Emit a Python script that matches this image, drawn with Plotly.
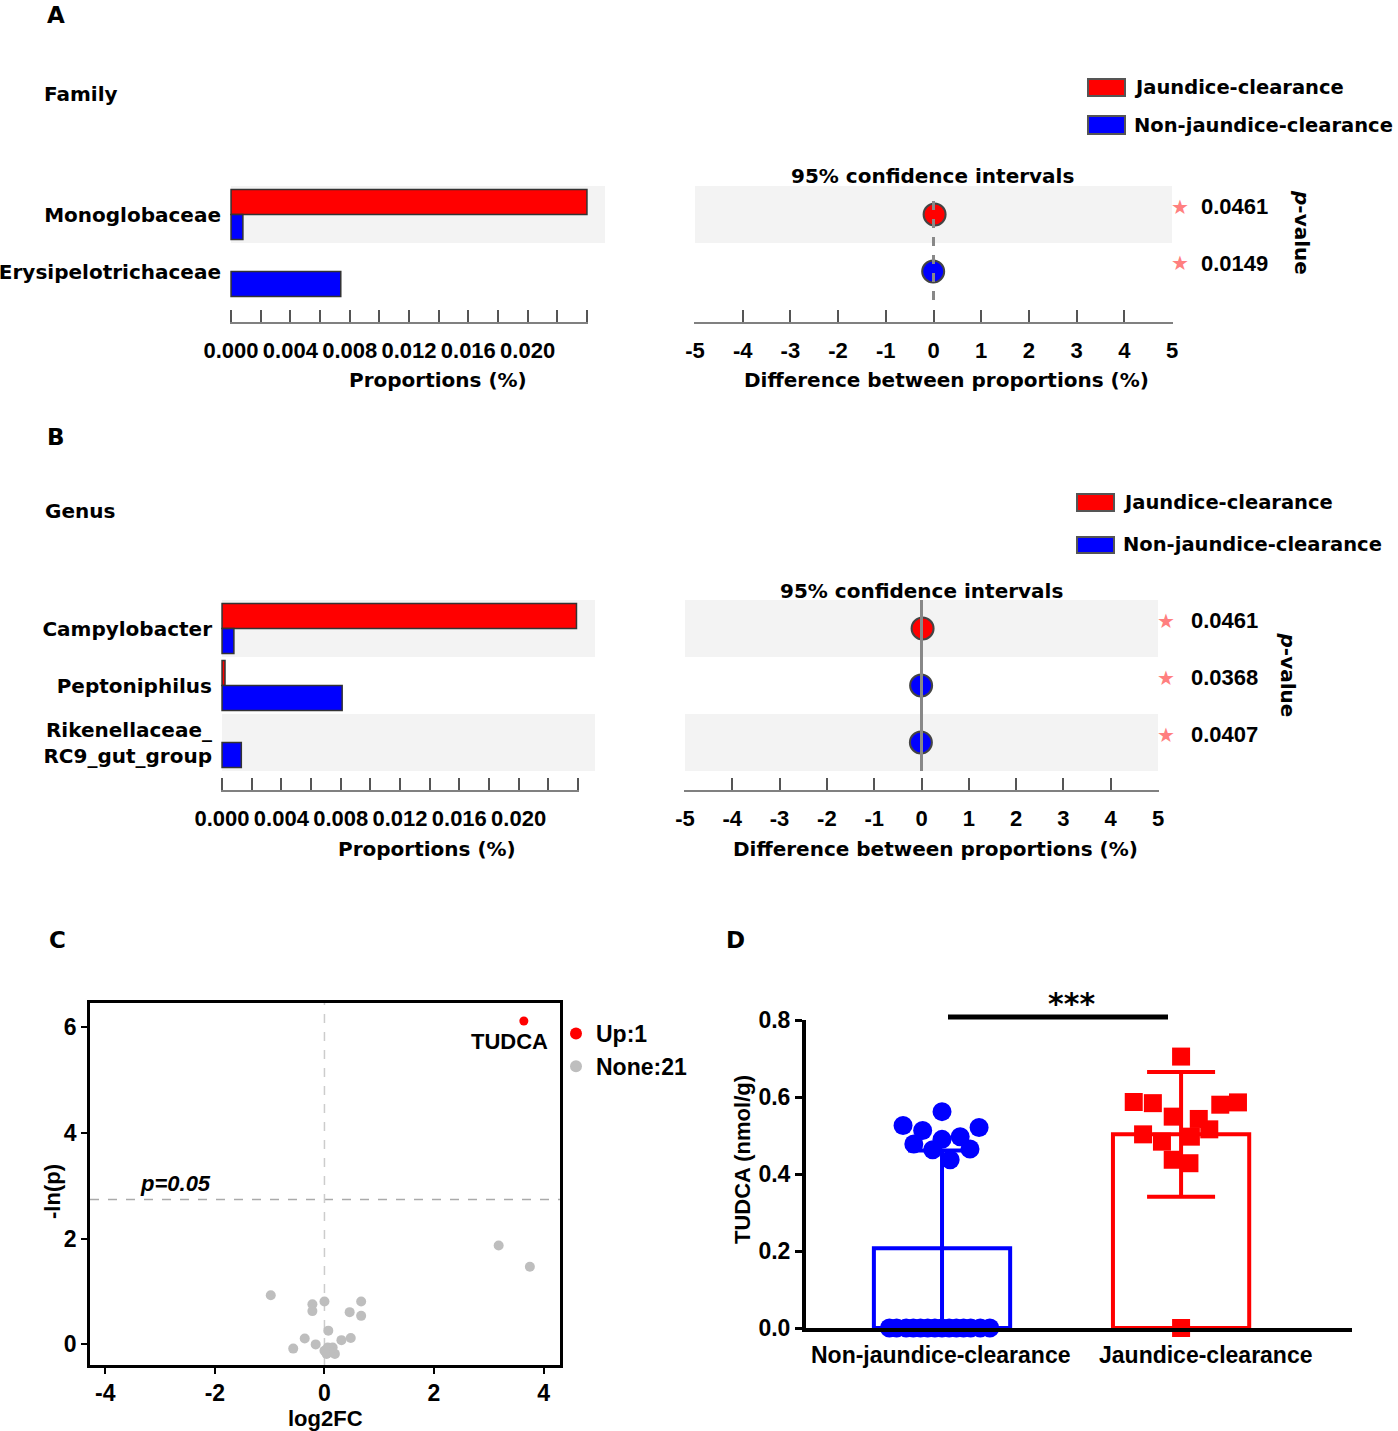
import plotly.graph_objects as go

W, H = 1398, 1431
RED = "#FF0000"
BLUE = "#0000FF"
BAND = "#F3F3F3"
WIDE = "DejaVu Sans, Verdana, sans-serif"
FONT = "Liberation Sans, Arial, sans-serif"

# panel A - family level
families = ["Monoglobaceae", "Erysipelotrichaceae"]
family_jc = [0.0240, 0.0]
family_njc = [0.0008, 0.0074]
family_diff = [0.023, -0.007]
family_p = ["0.0461", "0.0149"]

# panel B - genus level
genera = ["Campylobacter", "Peptoniphilus", "Rikenellaceae_<br>RC9_gut_group"]
genus_jc = [0.0239, 0.0002, 0.0]
genus_njc = [0.0008, 0.0081, 0.0013]
genus_diff = [0.023, -0.008, -0.013]
genus_p = ["0.0461", "0.0368", "0.0407"]

prop_ticks = [0, 0.002, 0.004, 0.006, 0.008, 0.010, 0.012, 0.014, 0.016, 0.018, 0.020, 0.022, 0.024]
prop_labels = ["0.000", "", "0.004", "", "0.008", "", "0.012", "", "0.016", "", "0.020", "", ""]
diff_ticks = [-5, -4, -3, -2, -1, 0, 1, 2, 3, 4, 5]

# panel C - volcano
up_fc = [3.64]
up_lnp = [6.12]
up_names = ["TUDCA"]
none_fc = [3.18, 3.75, -0.98, -0.22, -0.22, 0.0, 0.67, 0.46, 0.67, 0.07, -0.36,
           -0.16, -0.57, 0.31, 0.48, 0.06, 0.15, 0.04, 0.19, 0.10, 0.0]
none_lnp = [1.87, 1.47, 0.93, 0.76, 0.63, 0.81, 0.81, 0.61, 0.54, 0.26, 0.11,
            0.0, -0.08, 0.08, 0.12, -0.06, -0.06, -0.18, -0.18, -0.15, -0.12]
p_cut = 2.74
fc_ticks = [-4, -2, 0, 2, 4]
lnp_ticks = [0, 2, 4, 6]

# panel D - TUDCA levels
groups = ["Non-jaundice-clearance", "Jaundice-clearance"]
group_mean = [0.207, 0.503]
group_sd = [0.254, 0.162]
njc_tudca = [0.562, 0.526, 0.513, 0.521, 0.478, 0.490, 0.497, 0.463, 0.465, 0.437,
             0, 0, 0, 0, 0, 0, 0, 0, 0, 0, 0, 0, 0, 0]
njc_jitter = [0.0, -0.163, -0.081, 0.155, -0.118, 0.0, 0.076, -0.039, 0.117, 0.034,
              -0.22, -0.19, -0.15, -0.12, -0.09, -0.06, -0.03, 0.0, 0.03, 0.06, 0.09, 0.12, 0.16, 0.2]
jc_tudca = [0.705, 0.587, 0.584, 0.580, 0.586, 0.549, 0.543, 0.516, 0.503, 0.484, 0.497, 0.437, 0.428, 0.0]
jc_jitter = [0.0, -0.198, -0.118, 0.164, 0.238, -0.035, 0.074, 0.118, -0.159, -0.080, 0.041, -0.035, 0.035, 0.0]
tudca_ticks = [0, 0.2, 0.4, 0.6, 0.8]


def px(x):
    return x / W


def py(y):
    return 1 - y / H


def bold(size, family=WIDE, color="black"):
    return dict(family=family, size=size, color=color, weight="bold")


annotations = []
shapes = []


def text(x, y, s, size=20, xanchor="center", angle=0, family=WIDE, color="black"):
    annotations.append(dict(x=px(x), y=py(y), xref="paper", yref="paper", text=s,
                            showarrow=False, xanchor=xanchor, yanchor="middle",
                            textangle=angle, font=bold(size, family, color)))


def legend_box(x0, y0, y1, color, label):
    shapes.append(dict(type="rect", xref="paper", yref="paper", x0=px(x0), x1=px(x0 + 37),
                       y0=py(y1), y1=py(y0), fillcolor=color, line=dict(color="#555", width=2)))
    text(x0 + 44, (y0 + y1) / 2, label, size=19.5, xanchor="left")


fig = go.Figure()
layout_axes = {}


def stamp_panel(n, cats, jc, njc, diff, pvals, bar_x0, bar_x1, band_x1, ci_x0, ci_x1,
                top, axis_y, bands, dashed, p_x, pv_x):
    rows = len(cats)
    row_h = 57
    bottom = -0.5 + (axis_y - top) / row_h
    xl, yl = f"x{n}", f"y{n}"
    xr, yr = f"x{n + 1}", f"y{n + 1}"
    for vals, col in ((jc, RED), (njc, BLUE)):
        fig.add_trace(go.Bar(y=cats, x=vals, orientation="h", xaxis=xl, yaxis=yl, showlegend=False,
                             marker=dict(color=col, line=dict(
                                 color="#333", width=[1.5 if v > 0 else 0 for v in vals]))))
    dot_colors = [RED if a > b else BLUE for a, b in zip(jc, njc)]
    fig.add_trace(go.Scatter(x=diff, y=cats, mode="markers", xaxis=xr, yaxis=yr, showlegend=False,
                             marker=dict(size=22, color=dot_colors, line=dict(color="#444", width=2))))
    ycommon = dict(domain=[py(axis_y), py(top)], range=[bottom, -0.5], type="category",
                   categoryorder="array", categoryarray=cats, showgrid=False, zeroline=False,
                   showline=False, ticks="", automargin=False)
    xcommon = dict(showline=True, linecolor="#808080", linewidth=2, ticks="inside", ticklen=12,
                   tickwidth=2, tickcolor="#555", tickfont=bold(22, FONT), tickangle=0,
                   showgrid=False, zeroline=False, ticklabelstandoff=8, automargin=False)
    # tiny padding so the end ticks are drawn too
    layout_axes[f"xaxis{n}"] = dict(xcommon, domain=[px(bar_x0 - 1), px(bar_x1 + 1)],
                                    range=[-0.00007, 0.02407], anchor=yl,
                                    tickvals=prop_ticks, ticktext=prop_labels)
    layout_axes[f"yaxis{n}"] = dict(ycommon, anchor=xl, tickfont=bold(20), ticklabelstandoff=8)
    layout_axes[f"xaxis{n + 1}"] = dict(xcommon, domain=[px(ci_x0 - 1), px(ci_x1 + 1)],
                                        range=[-5.02, 5.02], anchor=yr, tickvals=diff_ticks,
                                        ticktext=[str(t) for t in diff_ticks])
    layout_axes[f"yaxis{n + 1}"] = dict(ycommon, anchor=xr, showticklabels=False)
    for r in bands:
        for x0, x1 in ((bar_x0, band_x1), (ci_x0, ci_x1)):
            shapes.append(dict(type="rect", xref="paper", yref=yl, x0=px(x0), x1=px(x1),
                               y0=r - 0.5, y1=r + 0.5, fillcolor=BAND, line=dict(width=0),
                               layer="below"))
    shapes.append(dict(type="line", xref=xr, yref="paper", x0=0, x1=0,
                       y0=py(top + rows * row_h), y1=py(top + (8 if dashed else 0)),
                       line=dict(color="#888", width=3, dash="dash" if dashed else "solid"),
                       layer="above"))
    for i, p in enumerate(pvals):
        yc = top + row_h * i + row_h / 2 - 8
        text(p_x, yc, "★", size=20, color="#FF7F7F")
        text(pv_x, yc, p, size=22, xanchor="left", family=FONT)
    text(p_x + 122, top + rows * row_h / 2 - 11, "<i>p</i>-value", angle=90)


# panel A
stamp_panel(1, families, family_jc, family_njc, family_diff, family_p,
            231, 587, 605, 695, 1172, 186, 322, [0], True, 1180, 1199)
text(56, 15, "A", size=23)
text(42, 94, "Family", xanchor="left")
legend_box(1088, 79, 96, RED, "Jaundice-clearance")
legend_box(1088, 116, 134, BLUE, "Non-jaundice-clearance")
text(932, 176, "95% confidence intervals")
text(438, 380, "Proportions (%)")
text(946, 380, "Difference between proportions (%)")

# panel B
stamp_panel(3, genera, genus_jc, genus_njc, genus_diff, genus_p,
            222, 578, 595, 685, 1158, 600, 790, [0, 2], False, 1166, 1189)
text(56, 437, "B", size=23)
text(43, 511, "Genus", xanchor="left")
legend_box(1077, 494, 511, RED, "Jaundice-clearance")
legend_box(1077, 537, 553, BLUE, "Non-jaundice-clearance")
text(921, 591, "95% confidence intervals")
text(427, 849, "Proportions (%)")
text(935, 849, "Difference between proportions (%)")

# panel C - volcano
fig.add_trace(go.Scatter(x=up_fc, y=up_lnp, mode="markers", name="Up:1", xaxis="x5", yaxis="y5",
                         marker=dict(size=9, color=RED)))
fig.add_trace(go.Scatter(x=none_fc, y=none_lnp, mode="markers", name="None:21", xaxis="x5",
                         yaxis="y5", marker=dict(size=10, color="#BEBEBE")))
for name, fc, lnp in zip(up_names, up_fc, up_lnp):
    annotations.append(dict(x=fc, y=lnp, xref="x5", yref="y5", text=name, showarrow=False,
                            xanchor="center", yanchor="top", xshift=-14, yshift=-6,
                            font=bold(22, FONT)))
annotations.append(dict(x=-3.4, y=p_cut, xref="x5", yref="y5", text="<i>p=0.05</i>",
                        showarrow=False, xanchor="left", yanchor="bottom", yshift=2,
                        font=bold(22, FONT)))
shapes.append(dict(type="line", xref="x5 domain", yref="y5", x0=0, x1=1, y0=p_cut, y1=p_cut,
                   line=dict(color="#AAAAAA", width=1.5, dash="dash"), layer="below"))
shapes.append(dict(type="line", xref="x5", yref="y5 domain", x0=0, x1=0, y0=0, y1=1,
                   line=dict(color="#CCCCCC", width=1.5, dash="dash"), layer="below"))
frame = dict(showline=True, mirror=True, linecolor="black", linewidth=2.5, ticks="outside",
             ticklen=6, tickwidth=2, tickcolor="black", showgrid=False, zeroline=False,
             tickfont=bold(23, FONT), automargin=False)
layout_axes["xaxis5"] = dict(frame, domain=[px(90), px(560)], range=[-4.28, 4.30], anchor="y5",
                             tickvals=fc_ticks, ticktext=[str(t) for t in fc_ticks])
layout_axes["yaxis5"] = dict(frame, domain=[py(1365), py(1003)], range=[-0.39, 6.46],
                             anchor="x5", tickvals=lnp_ticks)
text(57, 940, "C", size=23)
text(52, 1192, "-ln(p)", size=22, angle=-90, family=FONT)
text(325, 1418, "log2FC", size=22, family=FONT)

# panel D - TUDCA bars with points
for i, col in enumerate([BLUE, RED]):
    fig.add_trace(go.Bar(x=[i], y=[group_mean[i]], width=0.57, offsetgroup="d", xaxis="x6",
                         yaxis="y6", showlegend=False,
                         marker=dict(color="rgba(0,0,0,0)", line=dict(color=col, width=4)),
                         error_y=dict(type="data", array=[group_sd[i]], color=col,
                                      thickness=4, width=34)))
fig.add_trace(go.Scatter(x=[0 + j for j in njc_jitter], y=njc_tudca, mode="markers", xaxis="x6",
                         yaxis="y6", showlegend=False, cliponaxis=False,
                         marker=dict(size=19, color=BLUE, symbol="circle")))
fig.add_trace(go.Scatter(x=[1 + j for j in jc_jitter], y=jc_tudca, mode="markers", xaxis="x6",
                         yaxis="y6", showlegend=False, cliponaxis=False,
                         marker=dict(size=18, color=RED, symbol="square")))
layout_axes["xaxis6"] = dict(domain=[px(806), px(1352)], range=[-0.569, 1.715], anchor="y6",
                             showline=True, linecolor="black", linewidth=4, ticks="",
                             tickvals=[0, 1], showticklabels=False, showgrid=False,
                             zeroline=False, automargin=False)
layout_axes["yaxis6"] = dict(domain=[py(1328), py(1020)], range=[0, 0.8], anchor="x6",
                             showline=True, linecolor="black", linewidth=4, ticks="outside",
                             ticklen=7, tickwidth=3, tickcolor="black", tickvals=tudca_ticks,
                             tickformat=".1f", tickfont=bold(23, FONT), showgrid=False,
                             zeroline=False, automargin=False)
for g, gx in zip(groups, [940, 1206]):
    text(gx, 1355, g, size=23, family=FONT)
shapes.append(dict(type="line", xref="paper", yref="paper", x0=px(948), x1=px(1168),
                   y0=py(1017), y1=py(1017), line=dict(color="black", width=5)))
text(1071, 1003, "***", size=30)
text(735, 940, "D", size=23)
text(742, 1160, "TUDCA (nmol/g)", size=22, angle=-90, family=FONT)

fig.update_layout(
    template="none",
    width=W, height=H, margin=dict(l=0, r=0, t=0, b=0, autoexpand=False),
    paper_bgcolor="white", plot_bgcolor="rgba(0,0,0,0)",
    barmode="group", bargap=0.12, bargroupgap=0,
    font=dict(family=WIDE, color="black"),
    annotations=annotations, shapes=shapes,
    legend=dict(x=px(556), y=py(1012), xanchor="left", yanchor="top", bgcolor="rgba(0,0,0,0)",
                font=bold(23, FONT), itemsizing="constant", tracegroupgap=2),
    **layout_axes,
)

fig.write_html("out.html", post_script="document.body.style.margin='0';",
               config={"displayModeBar": False})
